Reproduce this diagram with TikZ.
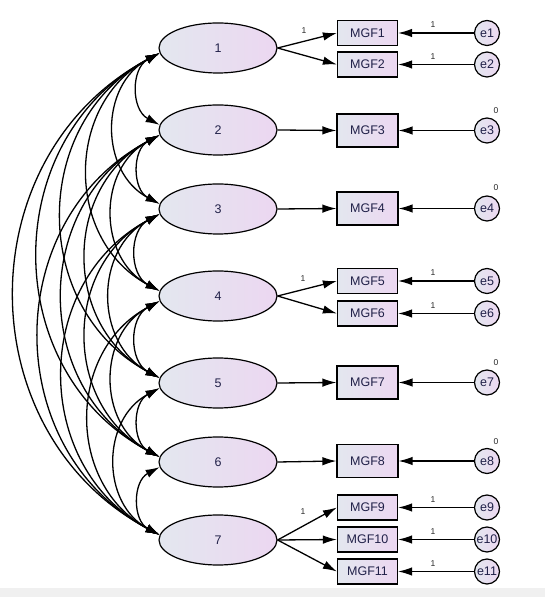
\documentclass[tikz,border=0pt]{standalone}
\usepackage{fontspec}
\setmainfont{Liberation Sans}
\usetikzlibrary{arrows.meta,shapes.geometric}
\definecolor{gL}{HTML}{E3E7EF}
\definecolor{gR}{HTML}{ECD7F1}
\definecolor{txt}{HTML}{202048}
\definecolor{band}{HTML}{F0F0F0}
\begin{document}
\begin{tikzpicture}[x=1pt,y=1pt,
  lat/.style={ellipse,draw,line width=1.2pt,left color=gL,right color=gR,minimum width=118pt,minimum height=50pt,inner sep=0pt,font=\fontsize{12.5}{14}\selectfont,text=txt},
  obs/.style={rectangle,draw,line width=1.2pt,left color=gL,right color=gR,minimum width=60pt,minimum height=25pt,inner sep=0pt,font=\fontsize{12.5}{14}\selectfont,text=txt},
  obsbig/.style={obs,minimum width=61pt,minimum height=33pt},
  err/.style={circle,draw,line width=1.2pt,left color=gL,right color=gR,minimum size=25pt,inner sep=0pt,font=\fontsize{12.5}{14}\selectfont,text=txt},
  num/.style={font=\fontsize{8.5}{9}\selectfont,text=black!85,inner sep=0pt},
  pth/.style={line width=1.3pt,-{Latex[length=14pt,width=8.5pt]}},
  cov/.style={line width=1.3pt,{Latex[length=14pt,width=8.5pt]}-{Latex[length=14pt,width=8.5pt]}}
]
\useasboundingbox (0,0) rectangle (545,597);
\fill[band] (0,0) rectangle (545,9);
% latent
\node[lat] (E1) at (218,549) {1};
\node[lat] (E2) at (218,467) {2};
\node[lat] (E3) at (218,388) {3};
\node[lat] (E4) at (218,301) {4};
\node[lat] (E5) at (218,214) {5};
\node[lat] (E6) at (218,135) {6};
\node[lat] (E7) at (218,57) {7};
% observed
\node[obs] (M1) at (367.5,564) {MGF1};
\node[obs] (M2) at (367.5,532.5) {MGF2};
\node[obsbig] (M3) at (367.5,466.5) {MGF3};
\node[obsbig] (M4) at (367.5,388.5) {MGF4};
\node[obs] (M5) at (367.5,316) {MGF5};
\node[obs] (M6) at (367.5,283.5) {MGF6};
\node[obsbig] (M7) at (367.5,214.5) {MGF7};
\node[obsbig] (M8) at (367.5,136) {MGF8};
\node[obs] (M9) at (367.5,89.5) {MGF9};
\node[obs] (M10) at (367.5,57.5) {MGF10};
\node[obs] (M11) at (367.5,25.5) {MGF11};
% errors
\node[err] (e1) at (487,564) {e1};
\node[err] (e2) at (487,532.5) {e2};
\node[err] (e3) at (487,466.5) {e3};
\node[err] (e4) at (487,388.5) {e4};
\node[err] (e5) at (487,316) {e5};
\node[err] (e6) at (487,283.5) {e6};
\node[err] (e7) at (487,214.5) {e7};
\node[err] (e8) at (487,136) {e8};
\node[err] (e9) at (487,89.5) {e9};
\node[err] (e10) at (487,57.5) {e10};
\node[err] (e11) at (487,25.5) {e11};
% loadings
\draw[pth] (E1.east) -- (M1.west);
\draw[pth] (E1.east) -- (M2.west);
\draw[pth] (E2.east) -- (M3.west);
\draw[pth] (E3.east) -- (M4.west);
\draw[pth] (E4.east) -- (M5.west);
\draw[pth] (E4.east) -- (M6.west);
\draw[pth] (E5.east) -- (M7.west);
\draw[pth] (E6.east) -- (M8.west);
\draw[pth] (E7.east) -- (M9.west);
\draw[pth] (E7.east) -- (M10.west);
\draw[pth] (E7.east) -- (M11.west);
% error paths
\foreach \i in {1,...,11}{\draw[pth] (e\i.west) -- (M\i.east);}
% labels
\node[num] (l1) at (304,566) {1};
\node[num] (l5) at (303,318) {1};
\node[num] (l9) at (303,85) {1};
\node[num] (r1) at (433,572) {1};
\node[num] (r2) at (433,540.5) {1};
\node[num] (r5) at (433,324) {1};
\node[num] (r6) at (433,291.5) {1};
\node[num] (r9) at (433,97.5) {1};
\node[num] (r10) at (433,65.5) {1};
\node[num] (r11) at (433,33.5) {1};
\node[num] (z3) at (496,486) {0};
\node[num] (z4) at (496,409) {0};
\node[num] (z7) at (496,234) {0};
\node[num] (z8) at (496,155) {0};
% covariances
\foreach \i in {1,...,6}{
  \pgfmathtruncatemacro{\s}{\i+1}
  \foreach \j in {\s,...,7}{
    \draw[cov] (E\i.185) to[out=208,in=152,looseness=1.16] (E\j.175);
  }
}
\end{tikzpicture}
\end{document}
